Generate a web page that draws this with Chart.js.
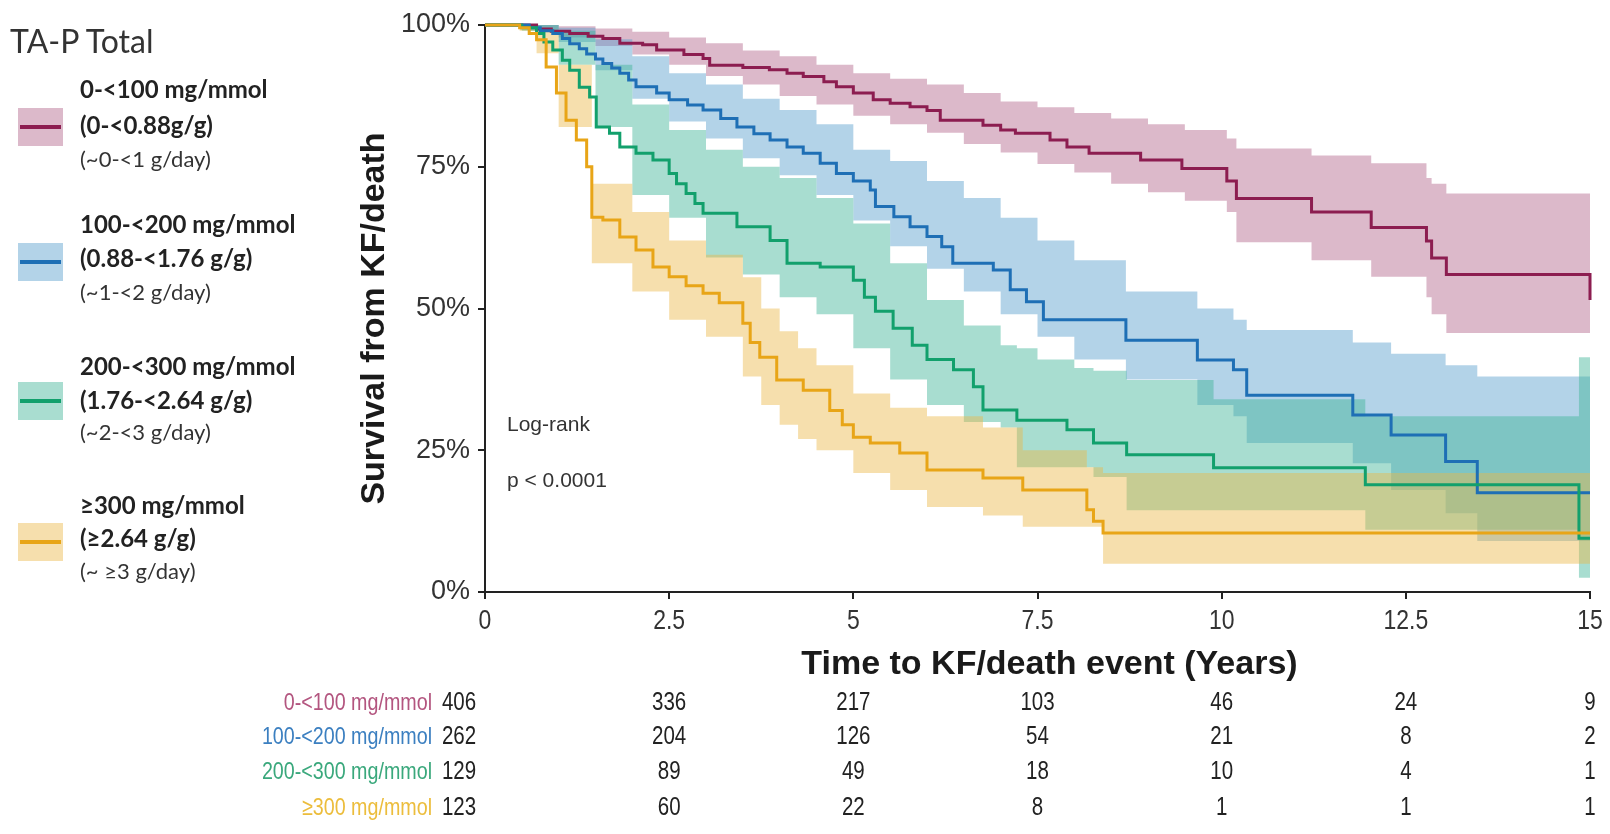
<!DOCTYPE html>
<html><head><meta charset="utf-8">
<script src="https://cdn.jsdelivr.net/npm/chart.js@4/dist/chart.umd.min.js"></script>
<style>
html,body{margin:0;padding:0;background:#fff;width:1610px;height:834px;overflow:hidden;}
#wrap{position:relative;width:1610px;height:834px;}
#c{position:absolute;left:0;top:0;}
.lg{position:absolute;font-family:Lato,'Open Sans',sans-serif;white-space:nowrap;color:#222;}
.sw{position:absolute;}
.sw i{position:absolute;left:2px;right:2px;height:4px;top:50%;margin-top:-2px;}
</style></head>
<body><div id="wrap"><canvas id="c" width="1610" height="834"></canvas><div id="legend"></div></div>
<script>
// ---------------- DATA ----------------
const groupNames = ['0-<100 mg/mmol','100-<200 mg/mmol','200-<300 mg/mmol','\u2265300 mg/mmol'];
const legendSub1 = ['(0-<0.88g/g)','(0.88-<1.76 g/g)','(1.76-<2.64 g/g)','(\u22652.64 g/g)'];
const legendSub2 = ['(~0-<1 g/day)','(~1-<2 g/day)','(~2-<3 g/day)','(~ \u22653 g/day)'];
const legendTitle = 'TA-P Total';

const pinkT = [0,0.7,0.9,1.15,1.4,1.6,1.83,2.14,2.33,2.7,2.96,3.05,3.5,3.86,4.1,4.32,4.6,4.77,5.0,5.27,5.5,5.77,6.0,6.18,6.76,7.0,7.2,7.67,7.9,8.2,8.9,9.46,10.07,10.2,11.22,12.03,12.78,12.85,13.05,15];
const pinkS = [100,99.3,98.9,98.5,98.0,97.6,96.8,96.5,95.6,94.8,94.1,92.9,92.5,92.1,91.5,90.9,90.0,89.1,88.0,86.8,86.2,85.6,84.9,83.2,82.3,81.5,80.9,79.7,78.5,77.4,76.2,74.7,72.5,69.4,67.0,64.3,61.9,58.9,56.0,51.5];
const pinkBT = [0,0.7,1.0,1.5,2.0,2.5,3.0,3.5,4.0,4.5,5.0,5.5,6.0,6.5,7.0,7.5,8.0,8.5,9.0,9.5,10.07,10.2,11.22,12.03,12.78,12.85,13.05,15];
const pinkU = [100,100,99.8,99.4,98.8,97.8,96.8,95.5,94.5,93.0,91.5,90.5,89.5,88.0,86.5,85.5,84.5,83.5,82.5,81.5,80.0,78.2,77.0,75.6,73.0,72.0,70.3,70.3];
const pinkL = [100,98.8,97.8,96.3,94.8,93.0,91.0,89.5,87.5,86.0,84.0,82.5,81.0,79.0,77.5,75.5,74.0,72.0,70.5,69.0,67.0,61.7,58.5,55.6,52.0,49.0,45.7,45.7];

const blueT = [0,0.6,0.75,0.92,1.05,1.15,1.28,1.38,1.5,1.6,1.72,1.83,1.95,2.05,2.33,2.5,2.75,2.96,3.2,3.42,3.65,3.87,4.1,4.32,4.55,4.77,5.0,5.23,5.3,5.55,5.77,6.0,6.2,6.35,6.9,7.13,7.35,7.58,8.7,9.67,10.16,10.34,11.78,12.3,13.04,13.47,15];
const blueS = [100,99.5,99,98.5,97.6,96.7,95.8,94.9,94,93.2,92.4,91.5,90.3,89.1,88,86.8,85.9,85,83.5,82,80.8,79.7,78.5,77.4,75.6,73.8,72.5,70.9,68,66.2,64.4,62.7,60.9,58,56.8,53.3,51.2,48,44.4,40.9,39.2,34.7,31.2,27.7,23,17.5,17.5];
const blueBT = [0,0.6,1.0,1.5,2.0,2.5,3.0,3.5,4.0,4.5,5.0,5.5,6.0,6.5,7.0,7.5,8.0,8.7,9.67,10.16,10.34,11.78,12.3,13.04,13.47,15];
const blueU = [100,100,99.5,97.5,94.5,91.5,89.5,87,85,82.5,78,76,72.5,69.5,66,62,58.5,53,50,48,46.2,44,42,40,38,38];
const blueL = [100,99,97,92,87,83,80,76.5,73.5,70,65.5,61,57,53,49,45,41,37.5,33,31,26.3,22.7,18,13.9,9,9];

const greenT = [0,0.5,0.7,0.8,0.92,1.05,1.15,1.28,1.42,1.51,1.69,1.83,2.05,2.28,2.5,2.6,2.73,2.85,2.96,3.42,3.87,4.1,4.55,5.0,5.15,5.3,5.54,5.8,6.0,6.36,6.63,6.76,7.22,7.9,8.26,8.71,9.89,11.95,14.85,15];
const greenS = [100,99.5,98.5,97,95.6,93.8,92,89,87.3,82,80.9,78.5,77.4,76.2,73.8,72,70.3,68.5,66.8,64.4,62,58,57.3,55,52,49.5,46.5,43.5,41,39.2,36.2,32.1,30.3,28.6,26.3,24.2,21.9,18.9,9.5,9.5];
const greenBT = [0,0.5,1.0,1.5,2.0,2.5,3.0,3.5,4.0,4.5,5.0,5.5,6.0,6.5,7.0,7.22,7.5,8.0,8.26,8.71,9.89,11.95,14.85,15];
const greenU = [100,100,99,93,86,81.5,78,75,73,69.5,65,58,51.5,47,43.5,43,41,39.5,39,37.4,34,31,41.4,41.4];
const greenL = [100,99,93,82,70,66,59,56,52,49,43,37.5,33,30,29,22,22,22,20.3,14.4,14.4,11,2.5,2.5];

const orangeT = [0,0.47,0.6,0.7,0.83,0.97,1.1,1.24,1.38,1.45,1.6,1.83,2.05,2.28,2.5,2.73,2.96,3.18,3.5,3.6,3.73,3.96,4.32,4.68,4.85,5.0,5.23,5.63,6.0,6.76,7.3,8.17,8.26,8.39,15];
const orangeS = [100,99.5,98.5,97.4,92.6,88,83.2,79.7,75,66.1,65.6,62.6,60.3,57.3,55.6,54,52.7,51,47.4,44,41.4,37.4,35.6,32,29.5,27.3,26.3,24.5,21.5,20.1,18,14.5,12.5,10.4,10.4];
const orangeBT = [0,0.47,0.7,1.0,1.45,2.0,2.5,3.0,3.5,3.75,4.0,4.25,4.5,5.0,5.5,6.0,6.76,7.3,8.17,8.39,15];
const orangeU = [100,100,99,93,72,67,62,59.5,55.5,50,46,43,40,35,32.5,31,29,25,22,21,21];
const orangeL = [100,99,95,82,58,53,48,45,38,33,29.5,27,25,21,18,15,13.5,11.5,11.5,5,5];

const riskTimes = [0,2.5,5,7.5,10,12.5,15];
const risk0 = [406,336,217,103,46,24,9];
const risk1 = [262,204,126,54,21,8,2];
const risk2 = [129,89,49,18,10,4,1];
const risk3 = [123,60,22,8,1,1,1];

const xTickLabels = ['0','2.5','5','7.5','10','12.5','15'];
const yTickValues = [0,25,50,75,100];
const yTickLabels = ['0%','25%','50%','75%','100%'];
const xTitle = 'Time to KF/death event (Years)';
const yTitle = 'Survival from KF/death';
const testText1 = 'Log-rank';
const testText2 = 'p < 0.0001';

// ---------------- STYLE ----------------
const lineColors = ['#8c1d50','#1e6fb5','#12a06c','#e8a517'];
const bandColors = ['rgba(177,99,137,0.45)','rgba(86,157,204,0.45)','rgba(62,179,151,0.45)','rgba(235,184,73,0.45)'];
const swatchColors = ['#dcb9ca','#b3d3e8','#a9ddd0','#f6dfad'];
const tableColors = ['#b3557f','#3b7fc0','#3aa87c','#ecbd3c'];

const lines = [[pinkT,pinkS],[blueT,blueS],[greenT,greenS],[orangeT,orangeS]];
const bands = [[pinkBT,pinkU,pinkL],[blueBT,blueU,blueL],[greenBT,greenU,greenL],[orangeBT,orangeU,orangeL]];
const risks = [risk0,risk1,risk2,risk3];

const pts = (t,v)=>t.map((x,i)=>({x:x,y:v[i]}));
const datasets = [];
bands.forEach((b,k)=>{
  datasets.push({data:pts(b[0],b[1]),stepped:true,borderWidth:0,pointRadius:0,fill:false,order:20-k,borderColor:'rgba(0,0,0,0)'});
  datasets.push({data:pts(b[0],b[2]),stepped:true,borderWidth:0,pointRadius:0,fill:'-1',backgroundColor:bandColors[k],order:20-k,borderColor:'rgba(0,0,0,0)'});
});
lines.forEach((l,k)=>{
  datasets.push({data:pts(l[0],l[1]),stepped:true,borderWidth:3,borderColor:lineColors[k],pointRadius:0,fill:false,order:3-k,clip:4});
});

const FONT = "'Liberation Sans', Arial, sans-serif";
function hasFont(name){
  const c=document.createElement('canvas').getContext('2d');
  c.font='40px monospace'; const w1=c.measureText('abcdefgh0123456').width;
  c.font='40px "'+name+'", monospace'; return Math.abs(c.measureText('abcdefgh0123456').width-w1)>0.5;
}
const HAS_NARROW = hasFont('Liberation Sans Narrow');
const NARROW = HAS_NARROW ? "'Liberation Sans Narrow', 'Liberation Sans', sans-serif" : FONT;
Chart.defaults.font.family = FONT;

// draw text horizontally condensed (used when no narrow font is installed)
function nText(ctx, txt, x, y, size, align){
  ctx.save();
  if (HAS_NARROW){ ctx.font = size+'px '+NARROW; ctx.textAlign=align; ctx.fillText(txt,x,y); }
  else { ctx.font = size+'px '+FONT; ctx.translate(x,y); ctx.scale(0.82,1); ctx.textAlign=align; ctx.fillText(txt,0,0); }
  ctx.restore();
}

const textPlugin = {
  id:'texts',
  afterDraw(chart){
    const {ctx, chartArea:a, scales:{x}} = chart;
    ctx.save();
    ctx.fillStyle = '#1a1a1a';
    ctx.font = 'bold 34px ' + FONT;
    ctx.textAlign = 'center'; ctx.textBaseline = 'middle';
    ctx.save(); ctx.translate(a.left-110,(a.top+a.bottom)/2+10); ctx.rotate(-Math.PI/2); ctx.fillText(yTitle,0,0); ctx.restore();
    ctx.fillText(xTitle,(a.left+a.right)/2+12,a.bottom+73);
    // x tick labels (condensed face like the reference)
    ctx.fillStyle='#333'; ctx.textBaseline='top';
    riskTimes.forEach((t,i)=>nText(ctx, xTickLabels[i], x.getPixelForValue(t), a.bottom+15, 28, 'center'));
    ctx.textBaseline='middle';
    ctx.font = '21px ' + FONT; ctx.textAlign='left'; ctx.fillStyle='#333';
    ctx.fillText(testText1,a.left+22,a.bottom-167);
    ctx.fillText(testText2,a.left+22,a.bottom-111);
    const rowY = [111,145,180,216];
    risks.forEach((r,k)=>{
      const yy = a.bottom + rowY[k];
      ctx.fillStyle = tableColors[k];
      nText(ctx, groupNames[k], a.left-53, yy, 24, 'right');
      ctx.fillStyle='#222';
      r.forEach((v,i)=>nText(ctx, String(v), x.getPixelForValue(riskTimes[i]) - (i===0?26:0), yy, 25, 'center'));
    });
    ctx.restore();
  }
};

new Chart(document.getElementById('c'),{
  type:'line',
  data:{datasets:datasets},
  options:{
    responsive:false, animation:false, devicePixelRatio:1,
    layout:{padding:{left:0,right:20,top:25,bottom:0}},
    plugins:{legend:{display:false},tooltip:{enabled:false}},
    scales:{
      x:{type:'linear',min:0,max:15,
        afterFit:s=>{s.height=242;},
        afterBuildTicks:s=>{s.ticks=riskTimes.map(v=>({value:v}));},
        ticks:{display:false,autoSkip:false,maxRotation:0},
        grid:{display:true,drawOnChartArea:false,drawTicks:true,tickLength:7,color:'#222',lineWidth:2},
        border:{display:true,color:'#222',width:2}},
      y:{min:0,max:100,
        afterFit:s=>{s.width=485;},
        afterBuildTicks:s=>{s.ticks=yTickValues.map(v=>({value:v}));},
        ticks:{color:'#333',font:{size:27},padding:8,callback:(v,i)=>yTickLabels[i]},
        grid:{display:true,drawOnChartArea:false,drawTicks:true,tickLength:7,color:'#222',lineWidth:2},
        border:{display:true,color:'#222',width:2}}
    }
  },
  plugins:[textPlugin]
});

// ---------------- LEGEND (HTML) ----------------
const lg = document.getElementById('legend');
function addText(txt,left,cy,size,weight,color){
  const d=document.createElement('div'); d.className='lg'; d.textContent=txt;
  d.style.left=left+'px'; d.style.top=(cy-size*0.62)+'px'; d.style.fontSize=size+'px';
  d.style.lineHeight=(size*1.24)+'px'; d.style.fontWeight=weight; d.style.color=color; lg.appendChild(d);
}
addText(legendTitle,10,41,32,400,'#333');
const entryY = [[89,125,159],[224,258,292],[366,400,432],[505,538,571]];
const swY = [127,262,401,542];
groupNames.forEach((g,k)=>{
  addText(g,80,entryY[k][0],24,700,'#222');
  addText(legendSub1[k],80,entryY[k][1],24,700,'#222');
  addText(legendSub2[k],80,entryY[k][2],22,400,'#333');
  const s=document.createElement('div'); s.className='sw';
  s.style.left='18px'; s.style.width='45px'; s.style.top=(swY[k]-19)+'px'; s.style.height='38px';
  s.style.background=swatchColors[k];
  const i=document.createElement('i'); i.style.background=lineColors[k]; s.appendChild(i); lg.appendChild(s);
});
</script></body></html>
